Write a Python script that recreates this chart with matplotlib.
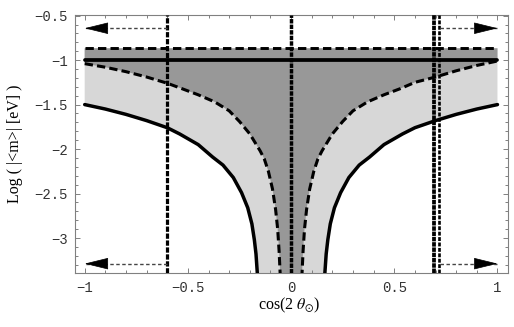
import numpy as np
import matplotlib
matplotlib.use('Agg')
import matplotlib.pyplot as plt
from matplotlib.ticker import MultipleLocator, FixedLocator

plt.rcParams['lines.scale_dashes'] = False
plt.rcParams['mathtext.fontset'] = 'stix'

# lower solid curve (edge of light band), left and right branch
sol_left_x = [-1.0, -0.9, -0.8, -0.7, -0.6, -0.54, -0.45, -0.38, -0.33, -0.28, -0.24, -0.21, -0.19, -0.178, -0.17, -0.162]
sol_left_y = [-1.50, -1.55, -1.61, -1.68, -1.76, -1.83, -1.95, -2.09, -2.18, -2.32, -2.49, -2.66, -2.84, -3.02, -3.18, -3.45]
sol_right_x = [0.162, 0.17, 0.178, 0.19, 0.21, 0.24, 0.28, 0.33, 0.38, 0.45, 0.54, 0.6, 0.7, 0.8, 0.9, 1.0]
sol_right_y = [-3.45, -3.18, -3.02, -2.84, -2.66, -2.49, -2.32, -2.18, -2.09, -1.95, -1.83, -1.76, -1.68, -1.61, -1.55, -1.50]

# dashed curve (edge of dark band)
dash_left_x = [-1.0, -0.9, -0.8, -0.7, -0.6, -0.53, -0.45, -0.37, -0.3, -0.25, -0.2, -0.15, -0.13, -0.11, -0.09, -0.075, -0.065, -0.058, -0.052]
dash_left_y = [-1.04, -1.08, -1.13, -1.19, -1.26, -1.32, -1.39, -1.47, -1.57, -1.69, -1.83, -2.02, -2.11, -2.25, -2.45, -2.68, -2.90, -3.15, -3.45]
dash_right_x = [0.052, 0.058, 0.065, 0.075, 0.09, 0.11, 0.13, 0.15, 0.2, 0.25, 0.3, 0.37, 0.45, 0.53, 0.6, 0.7, 0.8, 0.9, 1.0]
dash_right_y = [-3.45, -3.15, -2.90, -2.68, -2.45, -2.25, -2.11, -2.02, -1.83, -1.69, -1.57, -1.47, -1.39, -1.32, -1.25, -1.19, -1.12, -1.06, -1.01]

top_level = -0.867      # dashed horizontal bound
mid_level = -1.0        # solid horizontal line
band_x = [-1.0, 1.0]

vline_x = [-0.6, 0.0, 0.692, 0.718]

arrow_y = [-0.642, -3.288]
arrow_left = [-0.6, -1.0]    # from, to
arrow_right = [0.72, 1.0]

xticks = [-1, -0.5, 0, 0.5, 1]
xticklabels = ['\u22121', '\u22120.5', '0', '0.5', '1']
yticks = [-0.5, -1, -1.5, -2, -2.5, -3]
yticklabels = ['\u22120.5', '\u22121', '\u22121.5', '\u22122', '\u22122.5', '\u22123']

fig = plt.figure(figsize=(5.14, 3.27), dpi=100)
ax = fig.add_axes([75/514, 1-273/327, 433/514, 258/327])

# light band under everything, dark band on top of it
ax.fill([-1.0] + sol_left_x + sol_right_x + [1.0],
        [top_level] + sol_left_y + sol_right_y + [top_level],
        color='#d7d7d7', lw=0, zorder=1)
ax.fill([-1.0] + dash_left_x + dash_right_x + [1.0],
        [top_level] + dash_left_y + dash_right_y + [top_level],
        color='#989898', lw=0, zorder=2)

ax.plot(sol_left_x, sol_left_y, color='k', lw=2.5, solid_capstyle='round', zorder=4)
ax.plot(sol_right_x, sol_right_y, color='k', lw=2.5, solid_capstyle='round', zorder=4)
ax.plot(dash_left_x, dash_left_y, color='k', lw=2.2, dashes=(6, 3), zorder=4)
ax.plot(dash_right_x, dash_right_y, color='k', lw=2.2, dashes=(6, 3), zorder=4)

ax.plot(band_x, [top_level, top_level], color='k', lw=2.1, dashes=(6, 3), zorder=4)
ax.plot(band_x, [mid_level, mid_level], color='k', lw=2.7, solid_capstyle='round', zorder=4)

# vertical bounds
vstyles = [(2.3, (3.8, 1.2)), (2.5, (3.2, 0.8)), (2.7, (3.2, 0.6)), (1.9, (2.8, 1.1))]
for xv, (lw, dsh) in zip(vline_x, vstyles):
    ax.axvline(xv, color='k', lw=lw, dashes=dsh, zorder=5)

# arrows
for ya in arrow_y:
    for a0, a1 in (arrow_left, arrow_right):
        ax.plot([a0, a1], [ya, ya], color='#444444', lw=1.0, dashes=(2.5, 1.8), zorder=6)
        d = 0.1 if a1 < a0 else -0.1
        ax.annotate('', xy=(a1, ya), xytext=(a1 + d, ya),
                    arrowprops=dict(arrowstyle='-|>,head_length=1.55,head_width=0.38',
                                    color='k', lw=0.5, shrinkA=0, shrinkB=0),
                    zorder=7)

ax.set_xlim(-1.047, 1.051)
ax.set_ylim(-3.393, -0.493)

for sp in ax.spines.values():
    sp.set_color('#808080')
    sp.set_linewidth(0.8)

ax.xaxis.set_major_locator(FixedLocator(xticks))
ax.yaxis.set_major_locator(FixedLocator(yticks))
ax.xaxis.set_minor_locator(MultipleLocator(0.1))
ax.yaxis.set_minor_locator(MultipleLocator(0.1))
ax.set_xticklabels(xticklabels, family=['Liberation Mono', 'DejaVu Sans Mono'], fontsize=10, color='#333333')
ax.set_yticklabels(yticklabels, family=['Liberation Mono', 'DejaVu Sans Mono'], fontsize=10, color='#333333')
ax.tick_params(which='both', direction='in', top=True, right=True, color='#808080', width=0.7)
ax.tick_params(which='major', length=3.6)
ax.tick_params(which='minor', length=2.0)
ax.tick_params(axis='x', pad=6)
ax.tick_params(axis='y', pad=5)

fig.text(289.5/514, 1-305/327, r'cos(2 $\theta_{\odot}$)', ha='center', va='center',
         family='Liberation Serif', fontsize=11.5)
fig.text(15/514, 1-143.5/327, 'Log ( |<m>| [eV] )', ha='center', va='center', rotation=90,
         family='Liberation Serif', fontsize=11.5)

fig.savefig('out.png', dpi=100)
